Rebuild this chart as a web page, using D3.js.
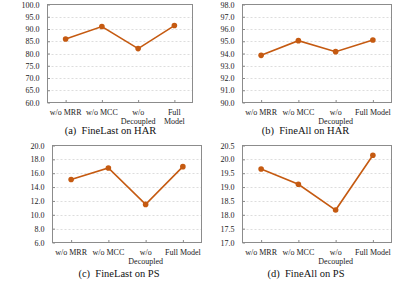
<!DOCTYPE html>
<html><head><meta charset="utf-8">
<script src="https://cdn.jsdelivr.net/npm/d3@7"></script>
<style>
body{margin:0;background:#fff;}
svg{display:block;}
</style></head>
<body>
<svg id="chart" width="415" height="282" font-family="Liberation Serif"></svg>
<script>
const categoriesA = [["w/o MRR"],["w/o MCC"],["w/o","Decoupled"],["Full","Model"]];
const categoriesB = [["w/o MRR"],["w/o MCC"],["w/o","Decoupled"],["Full Model"]];
const valuesA = [85.9, 91.0, 82.0, 91.4];
const valuesB = [93.85, 95.05, 94.15, 95.1];
const valuesC = [15.1, 16.75, 11.5, 16.95];
const valuesD = [19.65, 19.1, 18.17, 20.15];
const ticksA = [60,65,70,75,80,85,90,95,100];
const ticksB = [90,91,92,93,94,95,96,97,98];
const ticksC = [6,8,10,12,14,16,18,20];
const ticksD = [17,17.5,18,18.5,19,19.5,20,20.5];
const captions = ["(a)  FineLast on HAR","(b)  FineAll on HAR","(c)  FineLast on PS","(d)  FineAll on PS"];

const FONT = "Liberation Serif";
const panels = [
  {cats:categoriesA, vals:valuesA, ticks:ticksA, cap:captions[0], x0:47.5, x1:192.5, y0:4.5, y1:102.5, capX:110.5, capY:133.5},
  {cats:categoriesB, vals:valuesB, ticks:ticksB, cap:captions[1], x0:242.5, x1:391.5, y0:4.5, y1:102.5, capX:305.5, capY:133.5},
  {cats:categoriesB, vals:valuesC, ticks:ticksC, cap:captions[2], x0:52.5, x1:201.5, y0:145.5, y1:242.5, capX:119, capY:276.5},
  {cats:categoriesB, vals:valuesD, ticks:ticksD, cap:captions[3], x0:242.5, x1:391.5, y0:145.5, y1:242.5, capX:306, capY:276.5}
];
const svg = d3.select("#chart");
const color = "#C55A11";

panels.forEach(p => {
  const g = svg.append("g");
  const keys = p.cats.map(c => c.join(" "));
  const x = d3.scalePoint().domain(keys).range([p.x0, p.x1]).padding(0.5);
  const y = d3.scaleLinear().domain([p.ticks[0], p.ticks[p.ticks.length-1]]).range([p.y1, p.y0]);
  g.selectAll(".grid").data(p.ticks.slice(1, -1)).enter().append("line")
    .attr("x1", p.x0).attr("x2", p.x1)
    .attr("y1", d => Math.round(y(d)) + 0.5).attr("y2", d => Math.round(y(d)) + 0.5)
    .attr("stroke", "#d4d4d4").attr("stroke-width", 0.8).attr("stroke-dasharray", "2,2");
  const yAxis = d3.axisLeft(y).tickValues(p.ticks).tickFormat(d3.format(".1f")).tickSize(-2.5).tickPadding(8);
  const ya = g.append("g").attr("transform", `translate(${p.x0},0)`).call(yAxis);
  ya.attr("font-family", FONT);
  ya.select(".domain").remove();
  ya.selectAll("line").attr("stroke", "#888");
  ya.selectAll("text").attr("font-size", 8).attr("fill", "#222").attr("font-family", FONT);
  const xAxis = d3.axisBottom(x).tickSize(-2.5).tickFormat("");
  const xa = g.append("g").attr("transform", `translate(0,${p.y1})`).call(xAxis);
  xa.select(".domain").remove();
  xa.selectAll("line").attr("stroke", "#888");
  p.cats.forEach((c, i) => {
    const t = g.append("text").attr("x", x(keys[i])).attr("y", p.y1 + 12)
      .attr("text-anchor", "middle").attr("font-size", 8).attr("fill", "#222").attr("font-family", FONT);
    c.forEach((line, j) => {
      t.append("tspan").attr("x", x(keys[i])).attr("dy", j === 0 ? 0 : 9.5).text(line);
    });
  });
  g.append("rect").attr("x", p.x0).attr("y", p.y0).attr("width", p.x1 - p.x0).attr("height", p.y1 - p.y0)
    .attr("fill", "none").attr("stroke", "#8c8c8c").attr("stroke-width", 1);
  const line = d3.line().x((d, i) => x(keys[i])).y(d => y(d));
  g.append("path").datum(p.vals).attr("d", line).attr("fill", "none")
    .attr("stroke", color).attr("stroke-width", 1.6);
  g.selectAll(".pt").data(p.vals).enter().append("circle")
    .attr("cx", (d, i) => x(keys[i])).attr("cy", d => y(d)).attr("r", 2.8).attr("fill", color);
  g.append("text").attr("x", p.capX).attr("y", p.capY).attr("text-anchor", "middle")
    .attr("font-size", 10.5).attr("fill", "#111").attr("font-family", FONT)
    .style("white-space", "pre").text(p.cap);
});
</script>
</body></html>
